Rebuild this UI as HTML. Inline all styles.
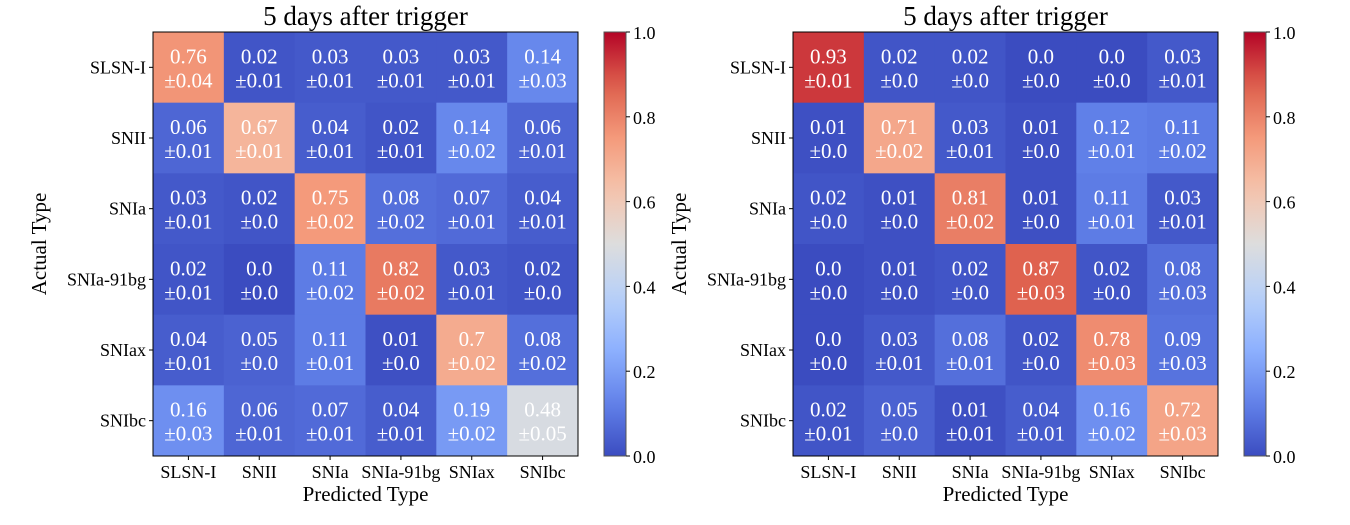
<!DOCTYPE html>
<html><head><meta charset="utf-8"><style>
body{margin:0;background:#fff;width:1350px;height:520px;overflow:hidden}
svg text{font-family:"Liberation Serif",serif}
</style></head><body>
<svg id="s" width="1350" height="520"></svg>
<script>
const classes=["SLSN-I","SNII","SNIa","SNIa-91bg","SNIax","SNIbc"];
const leftVals=[[0.76,0.02,0.03,0.03,0.03,0.14],[0.06,0.67,0.04,0.02,0.14,0.06],[0.03,0.02,0.75,0.08,0.07,0.04],[0.02,0.0,0.11,0.82,0.03,0.02],[0.04,0.05,0.11,0.01,0.7,0.08],[0.16,0.06,0.07,0.04,0.19,0.48]];
const leftErr=[[0.04,0.01,0.01,0.01,0.01,0.03],[0.01,0.01,0.01,0.01,0.02,0.01],[0.01,0.0,0.02,0.02,0.01,0.01],[0.01,0.0,0.02,0.02,0.01,0.0],[0.01,0.0,0.01,0.0,0.02,0.02],[0.03,0.01,0.01,0.01,0.02,0.05]];
const rightVals=[[0.93,0.02,0.02,0.0,0.0,0.03],[0.01,0.71,0.03,0.01,0.12,0.11],[0.02,0.01,0.81,0.01,0.11,0.03],[0.0,0.01,0.02,0.87,0.02,0.08],[0.0,0.03,0.08,0.02,0.78,0.09],[0.02,0.05,0.01,0.04,0.16,0.72]];
const rightErr=[[0.01,0.0,0.0,0.0,0.0,0.01],[0.0,0.02,0.01,0.0,0.01,0.02],[0.0,0.0,0.02,0.0,0.01,0.01],[0.0,0.0,0.0,0.03,0.0,0.03],[0.0,0.01,0.01,0.0,0.03,0.03],[0.01,0.0,0.01,0.01,0.02,0.03]];
const cbTicks=[0.0,0.2,0.4,0.6,0.8,1.0];
const stops=[[59,76,192],[98,130,234],[141,176,254],[184,208,249],[221,221,221],[245,196,173],[244,154,123],[222,96,77],[180,4,38]];
function cmap(v){v=Math.max(0,Math.min(1,v));const p=v*8,i=Math.min(7,Math.floor(p)),f=p-i;const a=stops[i],b=stops[i+1];return`rgb(${a.map((c,k)=>Math.round(c+(b[k]-c)*f)).join(",")})`;}
const NS="http://www.w3.org/2000/svg",svg=document.getElementById("s");
function el(t,at,txt,par){const e=document.createElementNS(NS,t);for(const k in at)e.setAttribute(k,at[k]);if(txt!=null)e.textContent=txt;(par||svg).appendChild(e);return e;}
const fmt=v=>{let s=String(v);return s.includes(".")?s:s+".0";};
function panel(x0,vals,errs,pname){
 const y0=32,W=425,H=424,n=6,cw=W/n,ch=H/n;
 const g=el("g",{});
 
 
 const xs=j=>x0+j*cw, ys=i=>y0+i*ch;
 for(let i=0;i<n;i++)for(let j=0;j<n;j++){
  const r=el("rect",{x:xs(j),y:ys(i),width:cw+0.5,height:ch+0.5,fill:cmap(vals[i][j])},null,g);
  
  
  const t=el("text",{x:xs(j)+cw/2,y:ys(i)+ch/2-4,"text-anchor":"middle",fill:"#fff","font-size":"21"},fmt(vals[i][j]),g);
  
  
  const t2=el("text",{x:xs(j)+cw/2,y:ys(i)+ch/2+20,"text-anchor":"middle",fill:"#fff","font-size":"21"},"±"+fmt(errs[i][j]),g);
  
  
 }
 el("rect",{x:x0,y:y0,width:W,height:H,fill:"none",stroke:"#000","stroke-width":1},null,g);
 for(let i=0;i<n;i++){
  el("line",{x1:x0-4,x2:x0,y1:ys(i)+ch/2,y2:ys(i)+ch/2,stroke:"#000"},null,g);
  const t=el("text",{x:x0-7,y:ys(i)+ch/2+6,"text-anchor":"end","font-size":"18"},classes[i],g);
  
  
  el("line",{x1:xs(i)+cw/2,x2:xs(i)+cw/2,y1:y0+H,y2:y0+H+4,stroke:"#000"},null,g);
  const u=el("text",{x:xs(i)+cw/2,y:y0+H+22,"text-anchor":"middle","font-size":"18"},classes[i],g);
  
  
 }
 const ti=el("text",{x:x0+W/2,y:25,"text-anchor":"middle","font-size":"27"},"5 days after trigger",g);
 
 
 const xl=el("text",{x:x0+W/2,y:501,"text-anchor":"middle","font-size":"21"},"Predicted Type",g);
 
 
 const yl=el("text",{x:0,y:0,"text-anchor":"middle","font-size":"21",transform:`translate(${x0-107},${y0+H/2}) rotate(-90)`},"Actual Type",g);
 
 
 // colorbar
 const cx=x0+451,cwid=22;
 const id="grad"+x0;
 const d=el("defs",{},null,g),lg=el("linearGradient",{id:id,x1:0,y1:1,x2:0,y2:0},null,d);
 for(let k=0;k<=20;k++)el("stop",{offset:k/20,"stop-color":cmap(k/20)},null,lg);
 const cb=el("rect",{x:cx,y:y0,width:cwid,height:H,fill:`url(#${id})`,stroke:"#555","stroke-width":1},null,g);
 
 
 cbTicks.forEach(v=>{const yy=y0+H-v*H;
  el("line",{x1:cx+cwid,x2:cx+cwid+4,y1:yy,y2:yy,stroke:"#000"},null,g);
  const t=el("text",{x:cx+cwid+7,y:yy+7,"font-size":"18"},v.toFixed(1),g);
  
  
 });
}
panel(153,leftVals,leftErr,'left-confusion-matrix');
panel(793,rightVals,rightErr,'right-confusion-matrix');
</script>
</body></html>
